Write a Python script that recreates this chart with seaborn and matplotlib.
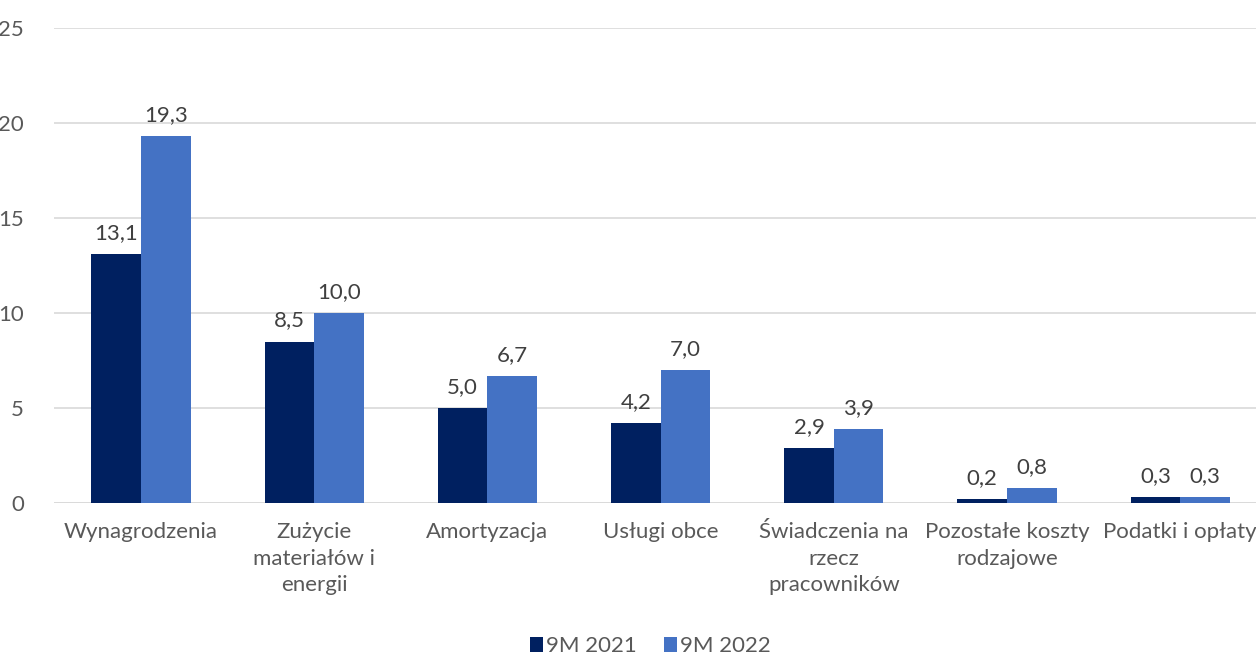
import matplotlib
matplotlib.use("Agg")

import matplotlib.pyplot as plt
import numpy as np
import pandas as pd
import seaborn as sns

# Data
categories = [
    "Wynagrodzenia",
    "Zużycie\nmateriałów i\nenergii",
    "Amortyzacja",
    "Usługi obce",
    "Świadczenia na\nrzecz\npracowników",
    "Pozostałe koszty\nrodzajowe",
    "Podatki i opłaty",
]
series_names = ["9M 2021", "9M 2022"]
values_2021 = [13.1, 8.5, 5.0, 4.2, 2.9, 0.2, 0.3]
values_2022 = [19.3, 10.0, 6.7, 7.0, 3.9, 0.8, 0.3]
y_ticks = [0, 5, 10, 15, 20, 25]

_DARK = "#002060"
_LIGHT = "#4472C4"
_TEXT = "#595959"
_GRID = "#D9D9D9"

df = pd.DataFrame({
    "category": categories * 2,
    "series": [series_names[0]] * len(categories) + [series_names[1]] * len(categories),
    "value": values_2021 + values_2022,
})

sns.set_theme(style="white")
plt.rcParams["font.family"] = ["Lato", "DejaVu Sans"]

fig = plt.figure(figsize=(12.56, 6.55), dpi=100)
ax = fig.add_axes([0.0433, 0.232, 0.9653, 0.725])

sns.barplot(
    data=df, x="category", y="value", hue="series",
    order=categories, hue_order=series_names,
    palette=[_DARK, _LIGHT], width=0.572, saturation=1.0,
    errorbar=None, ax=ax, zorder=3, linewidth=0,
)

for container in ax.containers:
    labels = [f"{b.get_height():.1f}".replace(".", ",") for b in container]
    ax.bar_label(container, labels=labels, padding=8, fontsize=16, color="#404040")

ax.set_ylim(0, 25)
ax.set_yticks(y_ticks)
ax.set_yticklabels([str(t) for t in y_ticks])
ax.yaxis.grid(True, color=_GRID, linewidth=1.2, zorder=0)
ax.set_axisbelow(True)
for side in ["top", "right", "left", "bottom"]:
    ax.spines[side].set_visible(False)
ax.axhline(0, color=_GRID, linewidth=1.2, zorder=1)
ax.tick_params(axis="both", length=0, labelsize=16, colors=_TEXT)
ax.tick_params(axis="y", pad=22)
ax.tick_params(axis="x", pad=14)
for lbl in ax.get_xticklabels():
    lbl.set_linespacing(1.4)
    lbl.set_verticalalignment("top")
ax.set_xlabel("")
ax.set_ylabel("")

ax.legend(
    loc="lower center", bbox_to_anchor=(0.5 - 0.0084, -0.365), ncol=2,
    frameon=False, fontsize=16, handlelength=0.6, handleheight=0.6,
    handletextpad=0.15, columnspacing=1.2, labelcolor=_TEXT,
)

fig.savefig("out.png", dpi=100)
plt.close(fig)
